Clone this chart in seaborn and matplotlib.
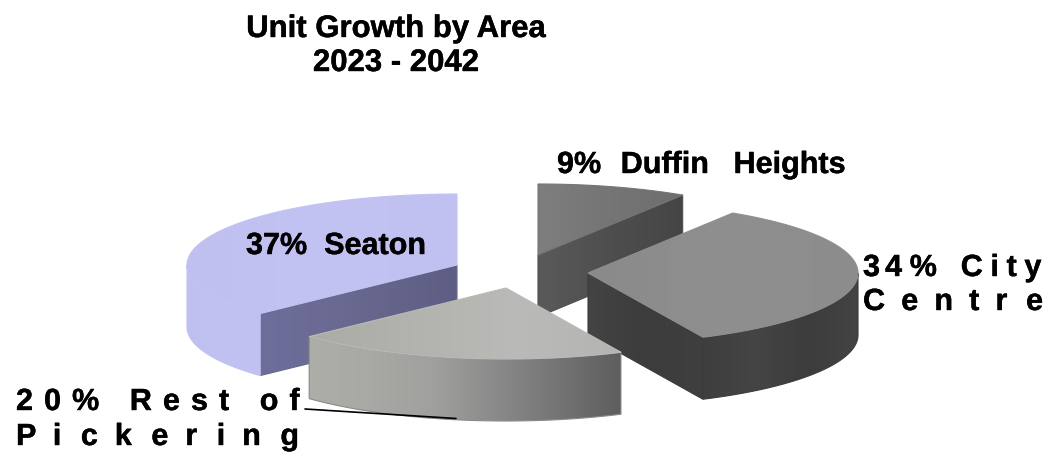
import numpy as np
import matplotlib
matplotlib.use("Agg")
import matplotlib.pyplot as plt
import matplotlib.patheffects as pe
from matplotlib.patches import Polygon
import seaborn as sns

# Share of unit growth per area, counter-clockwise from twelve o'clock
areas = ["Seaton", "Rest of Pickering", "City Centre", "Duffin Heights"]
shares = [37, 20, 34, 9]

# Where each exploded slice has its tip, in figure pixels
tip_x = [457, 506, 588, 538]
tip_y = [265, 288, 273, 255]

# Projected disc: ellipse half-axes and extrusion height
RX, RY, DEPTH = 270, 71, 62

# Painting order, back to front
draw_order = ["Seaton", "Duffin Heights", "City Centre", "Rest of Pickering"]

top_colors = {
    "Seaton": ["#BFBFF0", "#C3C3F3", "#C0C0F1"],
    "Rest of Pickering": ["#ACACA6", "#B2B2AE", "#BABAB8", "#B4B4B2"],
    "City Centre": ["#8A8A8A", "#8F8F8F", "#8C8C8C"],
    "Duffin Heights": ["#7E7E7E", "#757575", "#6E6E6E"],
}
side_colors = {
    "Seaton": ["#BFBFF0", "#C2C2F2", "#C0C0F1"],
    "Rest of Pickering": ["#AEAEA8", "#A8A8A4", "#A0A09E", "#8A8A8A", "#747474", "#5E5E5E"],
    "City Centre": ["#3E3E3E", "#454545", "#3C3C3C", "#434343"],
    "Duffin Heights": ["#505050", "#505050"],
}
wall_colors = {
    "Seaton": ["#6E6E9C", "#68688F", "#5E5E84"],
    "City Centre": ["#444444", "#3C3C3C", "#3F3F3F"],
    "Duffin Heights": ["#5A5A5A", "#4E4E4E", "#454545"],
}

sns.set_theme(style="white")
plt.rcParams["font.family"] = ["Liberation Sans", "DejaVu Sans"]

fig, ax = plt.subplots(figsize=(10.51, 4.58), dpi=100)
fig.subplots_adjust(0, 0, 1, 1)
ax.set_xlim(0, 1051)
ax.set_ylim(458, 0)
ax.axis("off")


def rim(cx, cy, theta):
    """Point on the top rim of the disc, theta in degrees from twelve o'clock."""
    t = np.radians(theta)
    return np.column_stack([cx - RX * np.sin(t), cy - RY * np.cos(t)])


def shaded(verts, colors, z):
    """Fill a polygon with a left-to-right colour ramp."""
    cmap = sns.blend_palette(colors, n_colors=128, as_cmap=True)
    x0, y0 = verts.min(axis=0)
    x1, y1 = verts.max(axis=0)
    ramp = np.linspace(0, 1, 256)[None, :]
    im = ax.imshow(ramp, cmap=cmap, extent=(x0, x1, y1, y0), aspect="auto",
                   interpolation="bilinear", zorder=z)
    clip = Polygon(verts, closed=True, transform=ax.transData, fc="none", ec="none")
    ax.add_patch(clip)
    im.set_clip_path(clip)
    ax.add_patch(Polygon(verts, closed=True, fc="none", ec=colors[len(colors) // 2],
                         lw=0.8, zorder=z + 0.1))


starts = np.cumsum([0] + shares[:-1]) * 3.6
ends = np.cumsum(shares) * 3.6

for rank, name in enumerate(draw_order):
    i = areas.index(name)
    a0, a1 = starts[i], ends[i]
    cx, cy = tip_x[i], tip_y[i]
    z = 2 + rank
    tip = np.array([[cx, cy]])
    down = np.array([0, DEPTH])

    # Radial walls that face the viewer
    if name in wall_colors:
        wall_angle = a1 if name == "Seaton" else a0
        edge = rim(cx, cy, np.array([wall_angle]))
        shaded(np.vstack([tip, edge, edge + down, tip + down]), wall_colors[name], z)

    # Outer curved side: only the part on the near half of the disc
    s0, s1 = max(a0, 90), min(a1, 270)
    if s1 > s0:
        arc = rim(cx, cy, np.linspace(s0, s1, 120))
        shaded(np.vstack([arc, (arc + down)[::-1]]), side_colors[name], z + 0.2)

    # Top face
    arc = rim(cx, cy, np.linspace(a0, a1, 200))
    shaded(np.vstack([tip, arc]), top_colors[name], z + 0.4)

# Leader line running along the foot of the Rest of Pickering slice
ax.plot([305, 456], [409, 418.5], color="black", lw=1.2, zorder=8)


def width_of(s, **kw):
    t = ax.text(0, 0, s, **kw)
    w = t.get_window_extent(fig.canvas.get_renderer()).width
    t.remove()
    return w


def tracked(s, target, **kw):
    """Letter-space a string with spaces and hair spaces to fill a target width."""
    glyphs = list(s)
    n_gaps = len(glyphs) - 1
    gap = (target - width_of(s, **kw)) / n_gaps
    sp = width_of("x x", **kw) - width_of("xx", **kw)
    hair = width_of("x\u200ax", **kw) - width_of("xx", **kw)
    n_sp = int(gap // sp)
    # Hair spaces are shared out evenly so the total width lands close to the target
    total_hair = int(round((gap - n_sp * sp) * n_gaps / hair)) if hair > 0 else 0
    out = glyphs[0]
    for k in range(1, len(glyphs)):
        n_hair = (k * total_hair) // n_gaps - ((k - 1) * total_hair) // n_gaps
        out += " " * n_sp + "\u200a" * n_hair + glyphs[k]
    return out


bold = dict(fontweight="bold", color="black",
            path_effects=[pe.withStroke(linewidth=0.3, foreground="black")])
title_kw = dict(fontsize=22.4, ha="center", va="baseline", **bold)
ax.text(396, 37, "Unit Growth by Area", **title_kw)
ax.text(396, 71, "2023 - 2042", **title_kw)

label_kw = dict(fontsize=22, ha="left", va="baseline", **bold)
ax.text(246, 254, "37%  Seaton", **label_kw)
ax.text(557, 173, "9%\u200a  Duffin\u200a\u200a\u200a  Heights", **label_kw)
ax.text(863, 276, tracked("34% City", 178, **label_kw), **label_kw)
ax.text(863, 310, tracked("Centre", 178, **label_kw), **label_kw)
ax.text(16, 410, tracked("20% Rest of", 284, **label_kw), **label_kw)
ax.text(16, 445, tracked("Pickering", 284, **label_kw), **label_kw)

fig.savefig("out.png", dpi=100, facecolor="white")
